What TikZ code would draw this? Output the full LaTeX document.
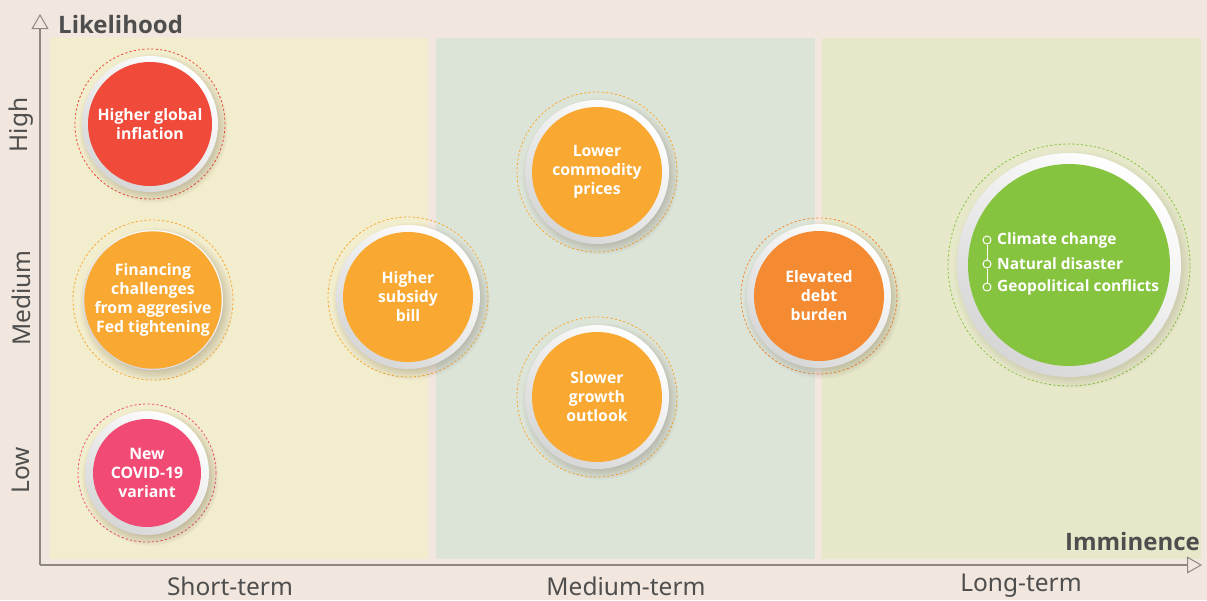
\documentclass[tikz,border=0pt]{standalone}
\usepackage{fontspec}
\setmainfont{Noto Sans}
\newfontfamily\heavysans{Open Sans}
\usetikzlibrary{arrows.meta,fadings}

\definecolor{pagebg}{HTML}{F2E7DE}
\definecolor{shortbg}{HTML}{F2EDCC}
\definecolor{medbg}{HTML}{DCE4D8}
\definecolor{longbg}{HTML}{E7E8CA}
\definecolor{axisgray}{HTML}{8C8884}
\definecolor{labelgray}{HTML}{4E4E4E}
\definecolor{riskred}{HTML}{F04A3B}
\definecolor{riskorange}{HTML}{F9A832}
\definecolor{riskpink}{HTML}{F14A75}
\definecolor{riskdark}{HTML}{F48A32}
\definecolor{riskgreen}{HTML}{86C440}

\tikzset{
  axisline/.style={draw=axisgray, line width=1.1pt,
    -{Triangle[open, length=15pt, width=17pt, line width=1pt]}},
  axistitle/.style={text=labelgray, font=\heavysans\fontsize{24}{27}\selectfont\bfseries, inner sep=0pt},
  scalelabel/.style={text=labelgray, font=\fontsize{24.5}{27}\selectfont, inner sep=0pt},
  dashring/.style={circle, draw=#1, dash pattern=on 2.2pt off 2.2pt,
    line width=0.8pt, inner sep=0pt},
  softshadow/.style={fill=black!70!brown, opacity=0.28,
    path fading=circle with fuzzy edge 20 percent},
  ringdisc/.style={circle, inner sep=0pt, draw=none,
    top color=white, bottom color=black!16, shading angle=-35},
  core/.style={circle, fill=#1, inner sep=0pt, text=white, align=center,
    font=\heavysans\fontsize{15.8}{19}\selectfont\bfseries},
  listdot/.style={circle, draw=white, line width=1pt, fill=riskgreen,
    minimum size=8pt, inner sep=0pt},
  listitem/.style={text=white, anchor=west, inner sep=0pt,
    font=\heavysans\fontsize{15.5}{18}\selectfont\bfseries},
}

% name, centre, core radius, ring radius, dashed radius, colour, text
\newcommand\riskbubble[7]{%
  \node[dashring=#6, minimum size=2*#5] (#1-dash) at (#2) {};
  \fill[softshadow] ([shift={(3,4)}]#2) circle[radius=#4+7];
  \node[ringdisc, minimum size=2*#4] (#1-ring) at (#2) {};
  \node[core=#6, minimum size=2*#3] (#1) at (#2) {#7};
}

\begin{document}
\begin{tikzpicture}[x=1pt, y=-1pt]
  \useasboundingbox[fill=pagebg] (0,0) rectangle (1207,600);

  % time-horizon panels
  \fill[shortbg] (50,38) rectangle (428,559);
  \fill[medbg] (436,38) rectangle (815,559);
  \fill[longbg] (822,38) rectangle (1201,559);

  % axes
  \coordinate (origin) at (40,565);
  \coordinate (ytip) at (40,14);
  \coordinate (xtip) at (1202,565);
  \draw[axisline] (origin) -- (ytip);
  \draw[axisline] (origin) -- (xtip);

  \node[axistitle, anchor=west] (ytitle) at (58,24) {Likelihood};
  \node[axistitle, anchor=east] (xtitle) at (1200,541) {Imminence};

  \node[scalelabel, rotate=90] (high) at (21,125) {High};
  \node[scalelabel, rotate=90] (medium) at (21,298) {Medium};
  \node[scalelabel, rotate=90] (low) at (21,470) {Low};

  \node[scalelabel] (short) at (230,586) {Short-term};
  \node[scalelabel] (medterm) at (626,586) {Medium-term};
  \node[scalelabel] (longterm) at (1021,586) {Long-term};

  % risk bubbles
  \riskbubble{inflation}{150,124}{62}{68}{75}{riskred}{Higher global\\inflation}
  \riskbubble{financing}{153,300}{62}{70}{80}{riskorange}{Financing\\challenges\\from aggresive\\Fed tightening}
  \riskbubble{covid}{147,473}{54}{62}{69}{riskpink}{New\\COVID-19\\variant}
  \riskbubble{subsidy}{408,297}{65}{72}{80}{riskorange}{Higher\\subsidy\\bill}
  \riskbubble{commodity}{597,172}{65}{72}{80}{riskorange}{Lower\\commodity\\prices}
  \riskbubble{growth}{597,397}{65}{72}{80}{riskorange}{Slower\\growth\\outlook}
  \riskbubble{debt}{819,296}{65}{72}{78}{riskdark}{Elevated\\debt\\burden}
  \riskbubble{climate}{1069,265}{101}{112}{121}{riskgreen}{}

  % long-term list inside the green bubble
  \node[listdot] (dot1) at (987,240) {};
  \node[listdot] (dot2) at (987,264) {};
  \node[listdot] (dot3) at (987,287) {};
  \draw[white, line width=1pt] (dot1) -- (dot2) (dot2) -- (dot3);
  \node[listitem] (item1) at (997,240) {Climate change};
  \node[listitem] (item2) at (997,264) {Natural disaster};
  \node[listitem] (item3) at (997,287) {Geopolitical conflicts};
\end{tikzpicture}
\end{document}
